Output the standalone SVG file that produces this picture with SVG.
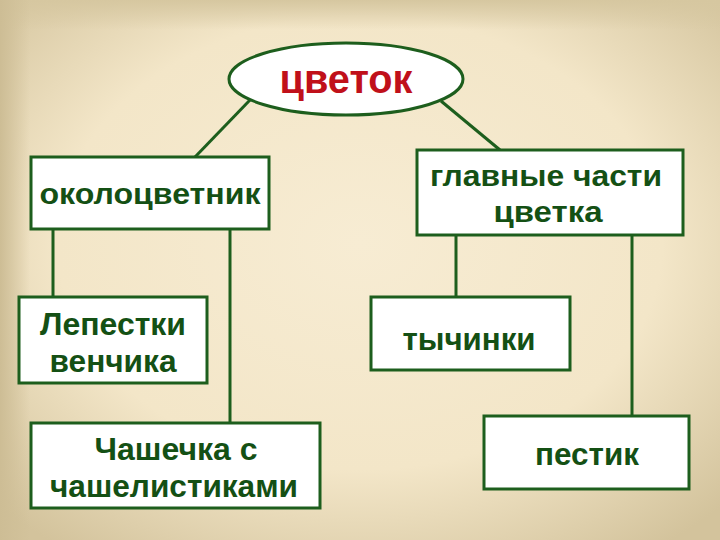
<svg xmlns="http://www.w3.org/2000/svg" width="720" height="540" viewBox="0 0 720 540">
<defs>
<radialGradient id="bg" cx="50%" cy="45%" r="70%">
<stop offset="0" stop-color="#f7ecd3"/>
<stop offset="0.6" stop-color="#f3e6c8"/>
<stop offset="1" stop-color="#d3c39c"/>
</radialGradient>
<linearGradient id="top" x1="0" y1="0" x2="0" y2="1">
<stop offset="0" stop-color="#d6c7a0"/>
<stop offset="1" stop-color="#d6c7a0" stop-opacity="0"/>
</linearGradient>
<linearGradient id="left" x1="0" y1="0" x2="1" y2="0">
<stop offset="0" stop-color="#cdbd95"/>
<stop offset="1" stop-color="#cdbd95" stop-opacity="0"/>
</linearGradient>
</defs>
<style>
.box{fill:#fff;stroke:#1d5e1d;stroke-width:3}
.ln{stroke:#1d5e1d;stroke-width:3;fill:none}
.t{font-family:"Liberation Sans",Arial,sans-serif;font-weight:bold;fill:#145014;text-anchor:middle}
</style>
<rect width="720" height="540" fill="url(#bg)"/>
<rect width="720" height="30" fill="url(#top)"/>
<rect width="30" height="540" fill="url(#left)"/>
<g id="connectors">
<line class="ln" x1="250" y1="100" x2="195" y2="157"/>
<line class="ln" x1="441" y1="101" x2="500" y2="150"/>
<line class="ln" x1="53" y1="229" x2="53" y2="297"/>
<line class="ln" x1="230" y1="229" x2="230" y2="423"/>
<line class="ln" x1="456" y1="235" x2="456" y2="297"/>
<line class="ln" x1="632" y1="235" x2="632" y2="416"/>
</g>
<g id="n-tsvetok">
<ellipse cx="346" cy="79" rx="117" ry="36" fill="#fff" stroke="#1d5e1d" stroke-width="3"/>
<text x="346" y="93" font-family="Liberation Sans,Arial,sans-serif" font-weight="bold" font-size="40" fill="#c0101a" text-anchor="middle" textLength="133" lengthAdjust="spacingAndGlyphs">цветок</text>
</g>
<g id="n-okolo">
<rect class="box" x="31" y="157" width="238" height="72"/>
<text class="t" x="150" y="204" font-size="29" textLength="221" lengthAdjust="spacingAndGlyphs">околоцветник</text>
</g>
<g id="n-glavnye">
<rect class="box" x="417" y="150" width="266" height="85"/>
<text class="t" x="546" y="186" font-size="29" textLength="232" lengthAdjust="spacingAndGlyphs">главные части</text>
<text class="t" x="548" y="222" font-size="29" textLength="109" lengthAdjust="spacingAndGlyphs">цветка</text>
</g>
<g id="n-lepestki">
<rect class="box" x="19" y="297" width="188" height="86"/>
<text class="t" x="113" y="335" font-size="31" textLength="146" lengthAdjust="spacingAndGlyphs">Лепестки</text>
<text class="t" x="113" y="372" font-size="31" textLength="127" lengthAdjust="spacingAndGlyphs">венчика</text>
</g>
<g id="n-chashechka">
<rect class="box" x="31" y="423" width="289" height="85"/>
<text class="t" x="176" y="460" font-size="31" textLength="163" lengthAdjust="spacingAndGlyphs">Чашечка с</text>
<text class="t" x="174" y="497" font-size="31" textLength="248" lengthAdjust="spacingAndGlyphs">чашелистиками</text>
</g>
<g id="n-tychinki">
<rect class="box" x="371" y="297" width="199" height="73"/>
<text class="t" x="469" y="350" font-size="31" textLength="133" lengthAdjust="spacingAndGlyphs">тычинки</text>
</g>
<g id="n-pestik">
<rect class="box" x="484" y="416" width="205" height="73"/>
<text class="t" x="587" y="465" font-size="31" textLength="104" lengthAdjust="spacingAndGlyphs">пестик</text>
</g>
</svg>
